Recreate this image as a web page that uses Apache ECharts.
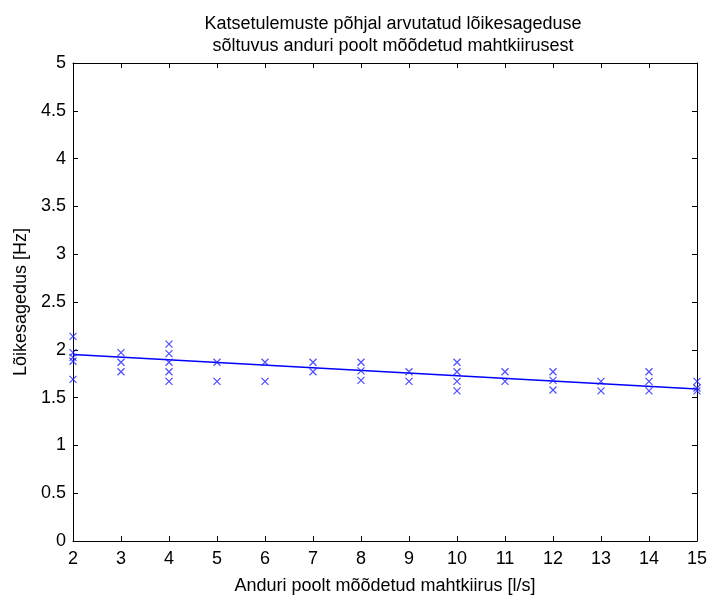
<!DOCTYPE html>
<html><head><meta charset="utf-8">
<script src="https://cdn.jsdelivr.net/npm/echarts@6/dist/echarts.min.js"></script>
<style>html,body{margin:0;padding:0;background:#fff}#c{width:710px;height:600px}</style>
</head><body><div id="c"></div>
<script>
const titleText = 'Katsetulemuste põhjal arvutatud lõikesageduse\nsõltuvus anduri poolt mõõdetud mahtkiirusest';
const xName = 'Anduri poolt mõõdetud mahtkiirus [l/s]';
const yName = 'Lõikesagedus [Hz]';
const xTicks = [2,3,4,5,6,7,8,9,10,11,12,13,14,15];
const yTicks = [0,0.5,1,1.5,2,2.5,3,3.5,4,4.5,5];
const measX = [2,2,2,2,2, 3,3,3, 4,4,4,4,4, 5,5, 6,6, 7,7, 8,8,8, 9,9, 10,10,10,10, 11,11, 12,12,12, 13,13, 14,14,14, 15,15,15];
const measY = [2.14,1.97,1.92,1.88,1.69, 1.97,1.87,1.77, 2.06,1.96,1.87,1.77,1.67, 1.87,1.67, 1.87,1.67, 1.87,1.77, 1.87,1.78,1.68, 1.77,1.67, 1.87,1.77,1.67,1.57, 1.77,1.67, 1.77,1.68,1.58, 1.67,1.57, 1.77,1.67,1.57, 1.67,1.60,1.57];
const fitX = [2, 15];
const fitY = [1.95, 1.59];

const FONT = '"Liberation Sans Narrow", "Liberation Sans", Arial, sans-serif';
const chart = echarts.init(document.getElementById('c'));
const axisCommon = {
  axisLine: {show: true, onZero: false, lineStyle: {color: '#000', width: 1}},
  axisTick: {show: true, inside: true, length: 5, lineStyle: {color: '#000'}},
  splitLine: {show: false}
};
chart.setOption({
  animation: false,
  backgroundColor: '#fff',
  title: {
    text: titleText, left: 388, top: 8, textAlign: 'center',
    textStyle: {fontFamily: FONT, fontSize: 18, fontWeight: 'normal', color: '#000', lineHeight: 22}
  },
  grid: {left: 73, right: 10, top: 63, bottom: 55},
  xAxis: [
    Object.assign({type: 'value', min: xTicks[0], max: xTicks[xTicks.length-1], interval: 1, position: 'bottom',
      name: xName, nameLocation: 'middle', nameGap: 36,
      nameTextStyle: {fontFamily: FONT, fontSize: 18, color: '#000'},
      axisLabel: {fontFamily: FONT, fontSize: 18, color: '#000', margin: 9}}, axisCommon),
    Object.assign({type: 'value', min: xTicks[0], max: xTicks[xTicks.length-1], interval: 1, position: 'top',
      axisLabel: {show: false}}, axisCommon)
  ],
  yAxis: [
    Object.assign({type: 'value', min: yTicks[0], max: yTicks[yTicks.length-1], interval: 0.5, position: 'left',
      name: yName, nameLocation: 'middle', nameGap: 41,
      nameTextStyle: {fontFamily: FONT, fontSize: 18, color: '#000'},
      axisLabel: {fontFamily: FONT, fontSize: 18, color: '#000', margin: 7}}, axisCommon),
    Object.assign({type: 'value', min: yTicks[0], max: yTicks[yTicks.length-1], interval: 0.5, position: 'right',
      axisLabel: {show: false}}, axisCommon)
  ],
  series: [
    {
      type: 'scatter',
      data: measX.map((x, i) => [x, measY[i]]),
      symbol: 'path://M0,0L10,10M10,0L0,10',
      symbolSize: 7,
      itemStyle: {color: 'transparent', borderColor: '#2020ff', borderWidth: 1.2},
      z: 3
    },
    {
      type: 'line',
      data: fitX.map((x, i) => [x, fitY[i]]),
      symbol: 'none',
      lineStyle: {color: '#0000ff', width: 1.5},
      z: 2
    }
  ]
});
</script></body></html>
